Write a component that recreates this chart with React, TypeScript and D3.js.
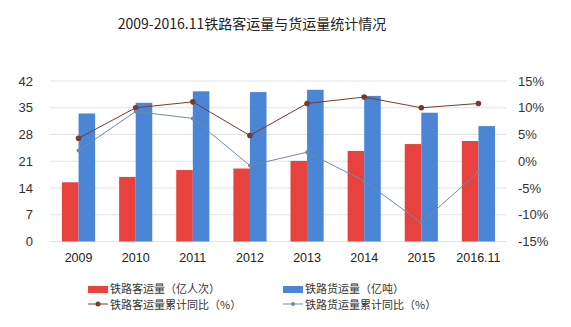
import React from "react";
import * as d3 from "d3";

const categories = ["2009", "2010", "2011", "2012", "2013", "2014", "2015", "2016.11"];
const passenger = [15.5, 16.9, 18.7, 19.1, 21.1, 23.7, 25.5, 26.3];
const freight = [33.5, 36.3, 39.3, 39.1, 39.7, 38.1, 33.7, 30.2];
const passengerYoY = [4.3, 10.0, 11.1, 4.8, 10.8, 12.0, 10.0, 10.8];
const freightYoY = [2.0, 9.3, 8.0, -0.8, 1.7, -3.7, -11.5, -2.0];
const leftTicks = [0, 7, 14, 21, 28, 35, 42];
const rightTicks = [-15, -10, -5, 0, 5, 10, 15];
const title = "2009-2016.11铁路客运量与货运量统计情况";
const legendLabels = ["铁路客运量（亿人次）", "铁路货运量（亿吨）", "铁路客运量累计同比（%）", "铁路货运量累计同比（%）"];

const W = 571, H = 327;
const RED = "#e8423f", BLUE = "#4a86d5", BROWN = "#7a3b2c", STEEL = "#6f8aa9";
const FONT = "Liberation Sans, Arial, sans-serif";
const CJK = "'Noto Sans CJK SC', sans-serif";

export default function App() {
  const x = d3.scaleBand<string>().domain(categories).range([50, 507]).paddingInner(0.42).paddingOuter(0.21);
  const x0 = d3.scaleBand<string>().domain(categories).range([50, 507]);
  const yL = d3.scaleLinear().domain([0, 42]).range([241.5, 81]);
  const yR = d3.scaleLinear().domain([-15, 15]).range([241.5, 81]);
  const bw = x.bandwidth() / 2;
  const cx = (c: string) => (x0(c) as number) + x0.bandwidth() / 2;
  const line = (vals: number[]) =>
    d3.line<number>().x((_, i) => cx(categories[i])).y((v) => yR(v))(vals) as string;

  return (
    <svg width={W} height={H} style={{ position: "absolute", left: 0, top: 0, background: "#fff" }}>
      <rect width={W} height={H} fill="#fff" />
      <text x={252} y={29} textAnchor="middle" fontFamily={CJK} fontSize={14} fill="#222">{title}</text>
      {leftTicks.map((t) => (
        <g key={"g" + t}>
          <line x1={50} x2={507} y1={yL(t)} y2={yL(t)} stroke="#e3e3e3" strokeWidth={1} />
          <text x={33} y={yL(t) + 4.5} textAnchor="end" fontFamily={FONT} fontSize={13} fill="#333">{t}</text>
        </g>
      ))}
      {rightTicks.map((t) => (
        <text key={"r" + t} x={518} y={yR(t) + 4.5} fontFamily={FONT} fontSize={13} fill="#333">{t + "%"}</text>
      ))}
      {categories.map((c, i) => (
        <g key={c}>
          <rect x={cx(c) - bw} y={yL(passenger[i])} width={bw} height={yL(0) - yL(passenger[i])} fill={RED} />
          <rect x={cx(c)} y={yL(freight[i])} width={bw} height={yL(0) - yL(freight[i])} fill={BLUE} />
          <text x={cx(c)} y={262} textAnchor="middle" fontFamily={FONT} fontSize={12.5} fill="#222">{c}</text>
        </g>
      ))}
      <path d={line(passengerYoY)} fill="none" stroke={BROWN} strokeWidth={1} />
      {passengerYoY.map((v, i) => (
        <circle key={"p" + i} cx={cx(categories[i])} cy={yR(v)} r={2.8} fill={BROWN} />
      ))}
      <path d={line(freightYoY)} fill="none" stroke={STEEL} strokeWidth={1} />
      {freightYoY.map((v, i) => (
        <circle key={"f" + i} cx={cx(categories[i])} cy={yR(v)} r={2} fill={STEEL} />
      ))}
      <g fontFamily={CJK} fontSize={11} fill="#333">
        <rect x={88} y={286} width={20} height={7} fill={RED} />
        <text x={110} y={293}>{legendLabels[0]}</text>
        <rect x={283} y={286} width={20} height={7} fill={BLUE} />
        <text x={305} y={293}>{legendLabels[1]}</text>
        <line x1={88} x2={108} y1={304} y2={304} stroke={BROWN} />
        <circle cx={98} cy={304} r={2.5} fill={BROWN} />
        <text x={110} y={308.5}>{legendLabels[2]}</text>
        <line x1={283} x2={303} y1={304} y2={304} stroke={STEEL} />
        <circle cx={293} cy={304} r={2} fill={STEEL} />
        <text x={305} y={308.5}>{legendLabels[3]}</text>
      </g>
    </svg>
  );
}
